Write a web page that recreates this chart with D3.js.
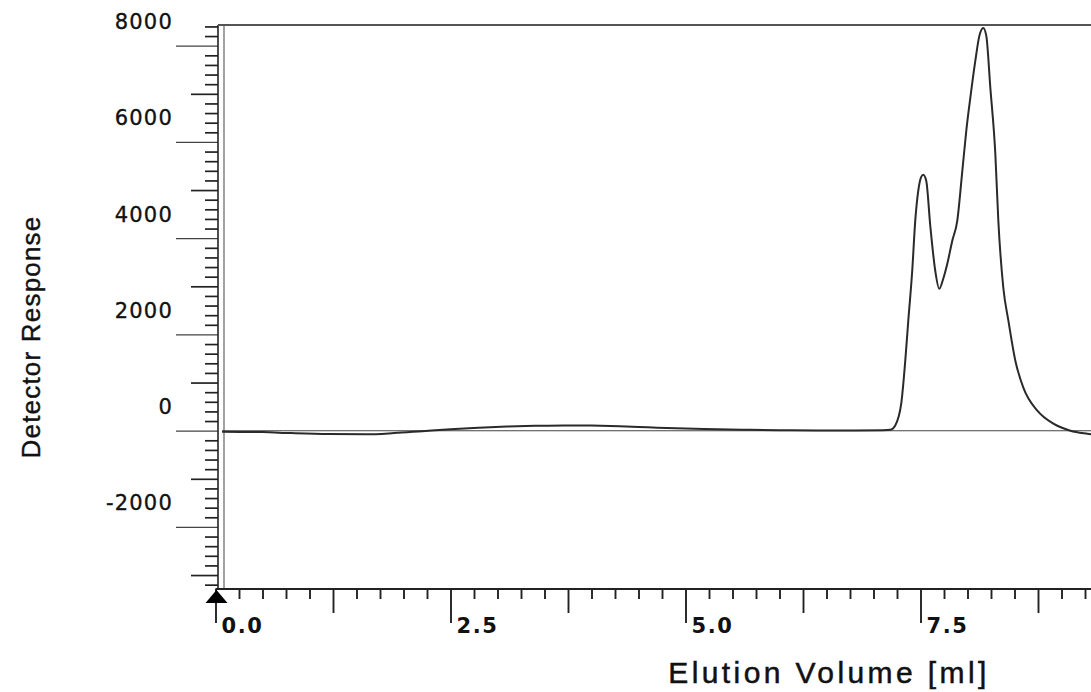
<!DOCTYPE html>
<html>
<head>
<meta charset="utf-8">
<script src="https://cdn.jsdelivr.net/npm/d3@7/dist/d3.min.js"></script>
<style>
  html, body { margin: 0; padding: 0; background: #fff; }
  svg { display: block; }
</style>
</head>
<body>
<svg id="chart" width="1091" height="692"></svg>
<script>
// Elution volume (ml) and detector response of the chromatogram trace
const volume = [0.07, 0.5, 0.8, 1.2, 1.6, 1.9, 2.2, 2.5, 2.8, 3.1,
  3.4, 3.7, 4.0, 4.3, 4.6, 4.9, 5.2, 5.6, 6.0, 6.4,
  6.8, 7.1, 7.18, 7.23, 7.295, 7.338, 7.37, 7.412, 7.444, 7.476,
  7.508, 7.529, 7.561, 7.604, 7.657, 7.70, 7.742, 7.785, 7.838, 7.891,
  7.945, 7.987, 8.03, 8.083, 8.126, 8.168, 8.2, 8.243, 8.296, 8.328,
  8.381, 8.435, 8.509, 8.594, 8.743, 8.914, 9.095, 9.276, 9.36];
const response = [-20, -30, -50, -70, -75, -50, -10, 30, 60, 85,
  100, 110, 105, 90, 70, 50, 35, 20, 10, 5,
  5, 10, 20, 104, 561, 1454, 2285, 3323, 4361, 4984,
  5275, 5317, 5192, 4258, 3323, 2949, 3157, 3468, 3946, 4361,
  5400, 6231, 6916, 7684, 8204, 8370, 8204, 7124, 5753, 4361,
  2970, 2285, 1454, 893, 415, 145, 0, -62, -83];

// Straight baseline under the peaks
const baselineVolume = [0.07, 9.4];
const baselineResponse = [0, 0];

// Axis ticks and labels
const yLabelTicks = [-2000, 0, 2000, 4000, 6000, 8000];
const yLabels = ["-2000", "0", "2000", "4000", "6000", "8000"];
const xLabelTicks = [0, 2.5, 5, 7.5];
const xLabels = ["0.0", "2.5", "5.0", "7.5"];
const yTitle = "Detector Response";
const xTitle = "Elution Volume [ml]";

const svg = d3.select("#chart");
const W = 1091, H = 692;
const plotLeft = 215.5, plotBottom = 589, plotTop = 25;

const x = d3.scaleLinear().domain([0, 9.3]).range([plotLeft, plotLeft + 9.3 * 94]);
const y = d3.scaleLinear().domain([-3290, 8430]).range([plotBottom, plotTop]);

const ink = "#222";
const labelFont = "'DejaVu Sans', Verdana, sans-serif";
const titleFont = "'Liberation Sans', Arial, sans-serif";

// ---- Y axis: minor (200), medium (1000), major (2000) ticks
const yMinor = d3.range(-3200, 8401, 200).filter(v => v % 1000 !== 0);
const yMedium = d3.range(-3000, 8401, 1000).filter(v => v % 2000 !== 0);
const yAxisX = 218;

function yTicks(values, size, width) {
  const g = svg.append("g").attr("transform", `translate(${yAxisX},0)`)
    .call(d3.axisLeft(y).tickValues(values).tickSize(size).tickFormat(""));
  g.select(".domain").remove();
  g.selectAll(".tick line").attr("stroke", ink).attr("stroke-width", width);
  return g;
}
yTicks(yMinor, 13, 1.7);
yTicks(yMedium, 27, 1.7);
const yMajorG = yTicks(yLabelTicks, 42, 1.3);
yMajorG.selectAll(".tick line").attr("stroke", "#444");

// Tick labels sit a little above their ticks
svg.append("g").selectAll("text")
  .data(yLabelTicks)
  .join("text")
  .attr("x", 173)
  .attr("y", d => y(d) - 24)
  .attr("dy", "0.36em")
  .attr("text-anchor", "end")
  .attr("font-family", labelFont)
  .attr("font-size", 21)
  .attr("letter-spacing", 1.2)
  .attr("fill", "#111")
  .attr("stroke", "#111")
  .attr("stroke-width", 0.35)
  .text((d, i) => yLabels[i]);

// Y axis double line
svg.append("line").attr("x1", yAxisX).attr("x2", yAxisX)
  .attr("y1", plotTop).attr("y2", plotBottom)
  .attr("stroke", ink).attr("stroke-width", 1.6);
svg.append("line").attr("x1", yAxisX + 6).attr("x2", yAxisX + 6)
  .attr("y1", plotTop).attr("y2", plotBottom)
  .attr("stroke", "#555").attr("stroke-width", 1.1);

// Top frame line
svg.append("line").attr("x1", yAxisX).attr("x2", W)
  .attr("y1", y(8430)).attr("y2", y(8430))
  .attr("stroke", "#555").attr("stroke-width", 2.2);

// ---- X axis: minor (0.25), medium (1.25), major (2.5) ticks
const xMinor = d3.range(0.25, 9.31, 0.25).filter(v => Math.abs(v / 1.25 - Math.round(v / 1.25)) > 1e-6);
const xMedium = [1.25, 3.75, 6.25, 8.75];

function xTicks(values, size, width) {
  const g = svg.append("g").attr("transform", `translate(0,${plotBottom})`)
    .call(d3.axisBottom(x).tickValues(values).tickSize(size).tickFormat(""));
  g.select(".domain").remove();
  g.selectAll(".tick line").attr("stroke", ink).attr("stroke-width", width);
  return g;
}
xTicks(xMinor, 10, 1.9);
xTicks(xMedium, 24, 1.9);
xTicks(xLabelTicks, 34, 1.9);

svg.append("line").attr("x1", x(0)).attr("x2", W)
  .attr("y1", plotBottom).attr("y2", plotBottom)
  .attr("stroke", ink).attr("stroke-width", 1.8);

svg.append("g").selectAll("text")
  .data(xLabelTicks)
  .join("text")
  .attr("x", d => x(d) + 6)
  .attr("y", 633)
  .attr("font-family", labelFont)
  .attr("font-size", 21)
  .attr("font-weight", "bold")
  .attr("letter-spacing", 1.6)
  .attr("fill", "#111")
  .text((d, i) => xLabels[i]);

// Injection marker
const ax = x(0) + 1;
svg.append("path")
  .attr("d", `M${ax},${plotBottom + 1} L${ax - 11},${plotBottom + 14} L${ax + 11},${plotBottom + 14} Z`)
  .attr("fill", "#000");

// ---- Baseline and trace
const line = d3.line().x(d => x(d[0])).y(d => y(d[1]));

svg.append("path")
  .datum(d3.zip(baselineVolume, baselineResponse))
  .attr("d", line)
  .attr("fill", "none")
  .attr("stroke", "#444")
  .attr("stroke-width", 1.1);

svg.append("path")
  .datum(d3.zip(volume, response))
  .attr("d", line.curve(d3.curveMonotoneX))
  .attr("fill", "none")
  .attr("stroke", "#2a2a2a")
  .attr("stroke-width", 2);

// ---- Axis titles
svg.append("text")
  .attr("transform", "translate(40,337) rotate(-90)")
  .attr("text-anchor", "middle")
  .attr("font-family", titleFont)
  .attr("font-size", 26)
  .attr("letter-spacing", 1.2)
  .attr("fill", "#111")
  .attr("stroke", "#111")
  .attr("stroke-width", 0.4)
  .text(yTitle);

svg.append("text")
  .attr("x", 829)
  .attr("y", 683)
  .attr("text-anchor", "middle")
  .attr("font-family", titleFont)
  .attr("font-size", 30)
  .attr("letter-spacing", 3.4)
  .attr("fill", "#111")
  .attr("stroke", "#111")
  .attr("stroke-width", 0.5)
  .text(xTitle);
</script>
</body>
</html>
